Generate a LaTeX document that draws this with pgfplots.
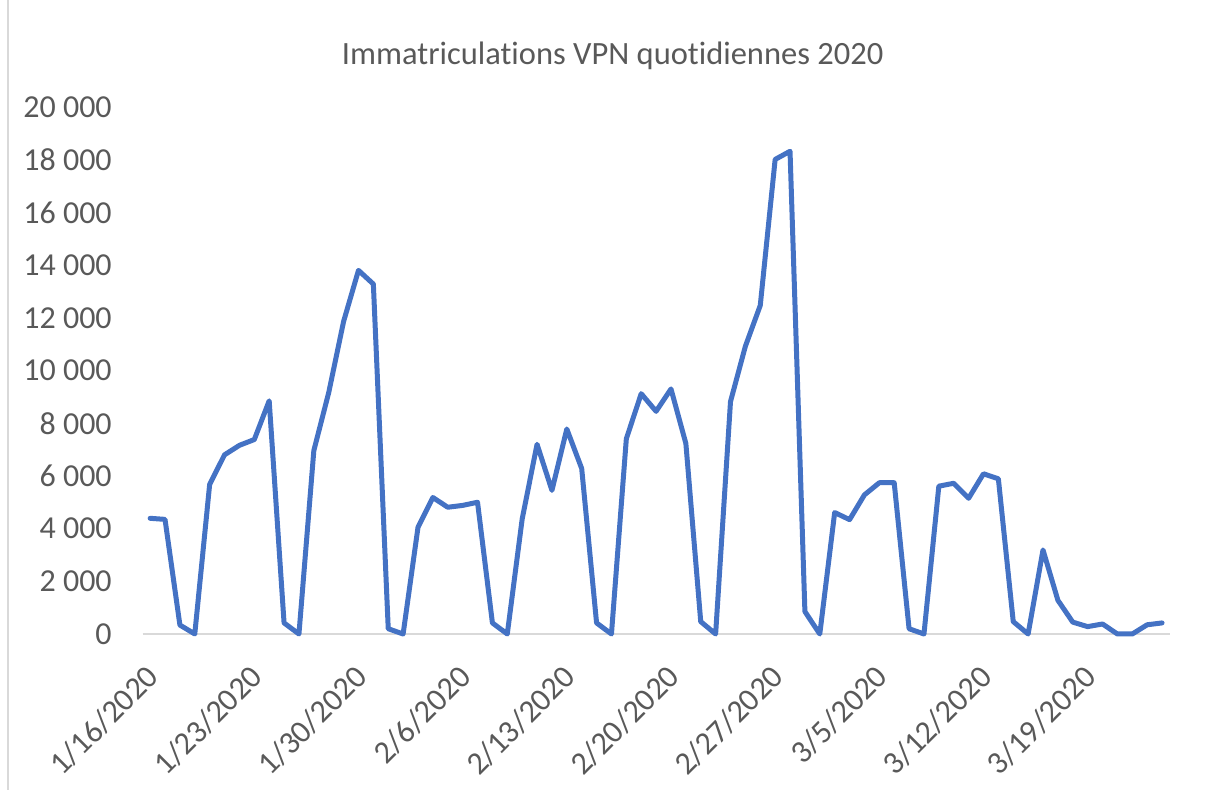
\documentclass[border=0pt]{standalone}
\usepackage{fontspec}
\setmainfont{Carlito}[Ligatures=NoCommon]
\usepackage{pgfplots}
\pgfplotsset{compat=1.18}
\definecolor{xlblue}{RGB}{68,114,196}
\definecolor{xltext}{RGB}{89,89,89}
\definecolor{xlaxis}{RGB}{217,217,217}
\begin{document}
\begin{tikzpicture}
\path[use as bounding box] (-71.35pt,-78pt) rectangle (535.65pt,317pt);
\draw[xlaxis, line width=1pt] (-67.35pt,-78pt) -- (-67.35pt,317pt);
\begin{axis}[
  scale only axis,
  width=513.4pt, height=263.5pt,
  xmin=-0.5, xmax=68.5,
  ymin=0, ymax=20000,
  clip=false,
  scaled y ticks=false,
  axis line style={draw=none},
  major tick length=0pt,
  tick style={draw=none},
  xtick={0,7,14,21,28,35,42,49,56,63},
  xticklabels={1/16/2020,1/23/2020,1/30/2020,2/6/2020,2/13/2020,2/20/2020,2/27/2020,3/5/2020,3/12/2020,3/19/2020},
  ytick={0,2000,4000,6000,8000,10000,12000,14000,16000,18000,20000},
  yticklabels={0,2 000,4 000,6 000,8 000,10 000,12 000,14 000,16 000,18 000,20 000},
  yticklabel style={font=\fontsize{16}{19}\selectfont, text=xltext, anchor=east, inner sep=0pt, xshift=-15.3pt},
  xticklabel style={font=\fontsize{16}{19}\selectfont, text=xltext, xshift=1.5pt, yshift=-18.7pt, rotate=45, anchor=east, inner sep=0pt},
  title={Immatriculations VPN quotidiennes 2020},
  title style={font=\fontsize{16.25}{19}\selectfont, text=xltext, at={(0.4577,1.058)}, anchor=base, inner sep=0pt},
]
\draw[xlaxis, line width=0.75pt] (axis cs:-0.5,0) -- (axis cs:68.5,0);
\addplot[xlblue, line width=2.5pt, line join=round, line cap=round, mark=none] table {
x y
0 4390
1 4350
2 340
3 0
4 5680
5 6800
6 7160
7 7380
8 8850
9 420
10 0
11 6960
12 9160
13 11860
14 13800
15 13280
16 200
17 0
18 4050
19 5180
20 4810
21 4880
22 5000
23 420
24 0
25 4360
26 7200
27 5450
28 7780
29 6280
30 420
31 0
32 7410
33 9120
34 8450
35 9300
36 7230
37 470
38 0
39 8820
40 10920
41 12470
42 18010
43 18320
44 850
45 0
46 4610
47 4340
48 5280
49 5740
50 5740
51 200
52 0
53 5610
54 5720
55 5150
56 6080
57 5890
58 470
59 0
60 3190
61 1280
62 450
63 280
64 380
65 0
66 0
67 350
68 420
};
\end{axis}
\end{tikzpicture}
\end{document}
